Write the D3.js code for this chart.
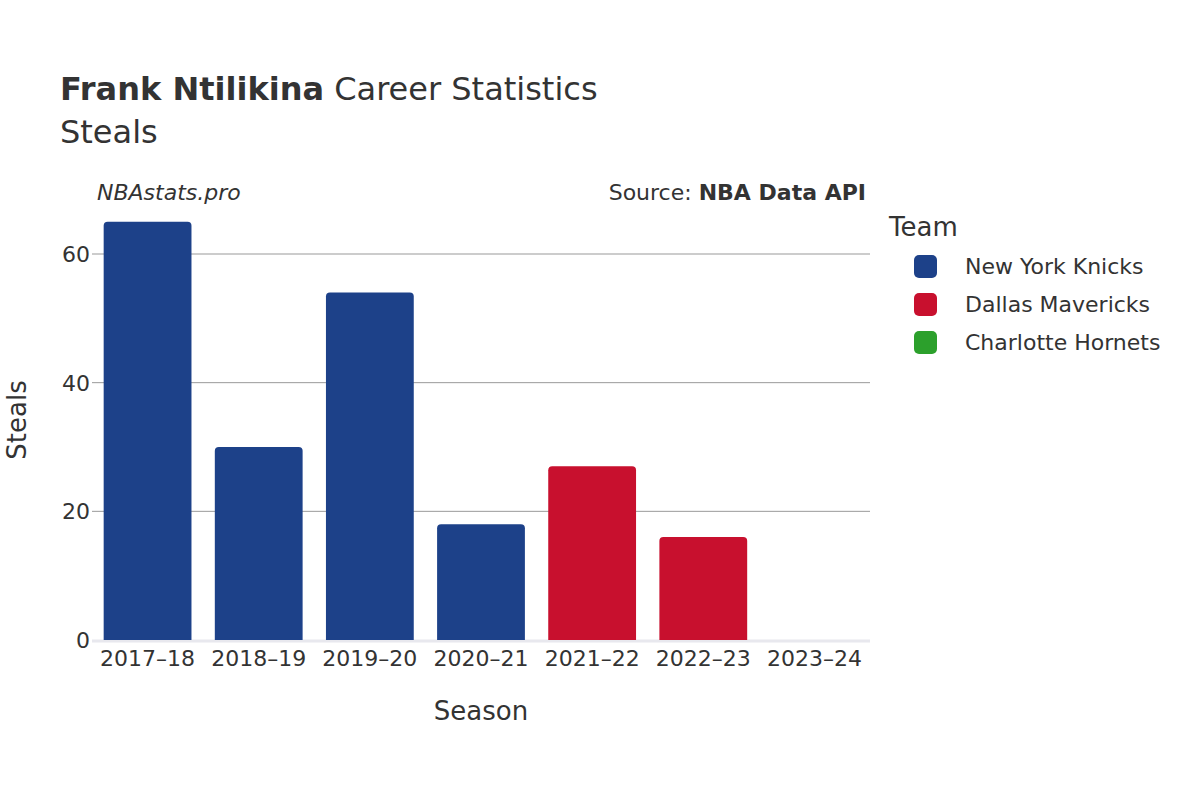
<!DOCTYPE html>
<html><head><meta charset="utf-8">
<script src="https://cdn.jsdelivr.net/npm/d3@7"></script>
<style>body{margin:0;background:#fff}text{font-family:"DejaVu Sans",sans-serif;fill:#333}</style>
</head><body><svg id="c" width="1200" height="800"></svg>
<script>
const seasons=["2017–18","2018–19","2019–20","2020–21","2021–22","2022–23","2023–24"];
const steals=[65,30,54,18,27,16,0];
const teams=["New York Knicks","New York Knicks","New York Knicks","New York Knicks","Dallas Mavericks","Dallas Mavericks","Charlotte Hornets"];
const teamNames=["New York Knicks","Dallas Mavericks","Charlotte Hornets"];
const teamColors=["#1d4189","#c8102e","#2ca02c"];
const yTicks=[0,20,40,60];

const svg=d3.select("#c");
const L=92,R=870,T=150,B=640;
const x=d3.scaleBand().domain(seasons).range([L,R]).paddingInner(0.21).paddingOuter(0.105);
const y=d3.scaleLinear().domain([0,60]).range([B,254]);
const col=d3.scaleOrdinal().domain(teamNames).range(teamColors);

svg.append("g").selectAll("line").data(yTicks.filter(d=>d>0)).join("line")
 .attr("x1",L).attr("x2",R).attr("y1",d=>y(d)).attr("y2",d=>y(d)).attr("stroke","#999").attr("stroke-width",1);
svg.append("line").attr("x1",L).attr("x2",R).attr("y1",B+1).attr("y2",B+1).attr("stroke","#e8e8ee").attr("stroke-width",3);

const r=4;
svg.append("g").selectAll("path").data(seasons).join("path")
 .attr("fill",(d,i)=>col(teams[i]))
 .attr("d",(d,i)=>{const x0=x(d),w=x.bandwidth(),y0=y(steals[i]),h=B-y0;
   if(h<=0)return "";const rr=Math.min(r,h);
   return `M${x0},${B}V${y0+rr}Q${x0},${y0} ${x0+rr},${y0}H${x0+w-rr}Q${x0+w},${y0} ${x0+w},${y0+rr}V${B}Z`;});

svg.append("g").selectAll("text").data(yTicks).join("text")
 .attr("x",L-2).attr("y",d=>y(d)+8).attr("text-anchor","end").attr("font-size",22).text(d=>d);
svg.append("g").selectAll("text").data(seasons).join("text")
 .attr("x",d=>x(d)+x.bandwidth()/2).attr("y",666).attr("text-anchor","middle").attr("font-size",22).text(d=>d);

svg.append("text").attr("x",481).attr("y",720).attr("text-anchor","middle").attr("font-size",26).text("Season");
svg.append("text").attr("transform","translate(26,420) rotate(-90)").attr("text-anchor","middle").attr("font-size",26).text("Steals");

const t=svg.append("text").attr("x",60).attr("y",100).attr("font-size",32);
t.append("tspan").attr("font-weight","bold").text("Frank Ntilikina");
t.append("tspan").text(" Career Statistics");
svg.append("text").attr("x",60).attr("y",143).attr("font-size",32).text("Steals");
svg.append("text").attr("x",97).attr("y",200).attr("font-size",22).attr("font-style","italic").text("NBAstats.pro");
const s=svg.append("text").attr("x",866).attr("y",200).attr("font-size",22).attr("text-anchor","end");
s.append("tspan").text("Source: ");s.append("tspan").attr("font-weight","bold").text("NBA Data API");

svg.append("text").attr("x",889).attr("y",236).attr("font-size",26).text("Team");
const lg=svg.append("g").selectAll("g").data(teamNames).join("g").attr("transform",(d,i)=>`translate(0,${266+i*38})`);
lg.append("rect").attr("x",914).attr("y",-11).attr("width",23).attr("height",23).attr("rx",5).attr("fill",d=>col(d));
lg.append("text").attr("x",965).attr("y",8).attr("font-size",22).text(d=>d);
</script></body></html>
